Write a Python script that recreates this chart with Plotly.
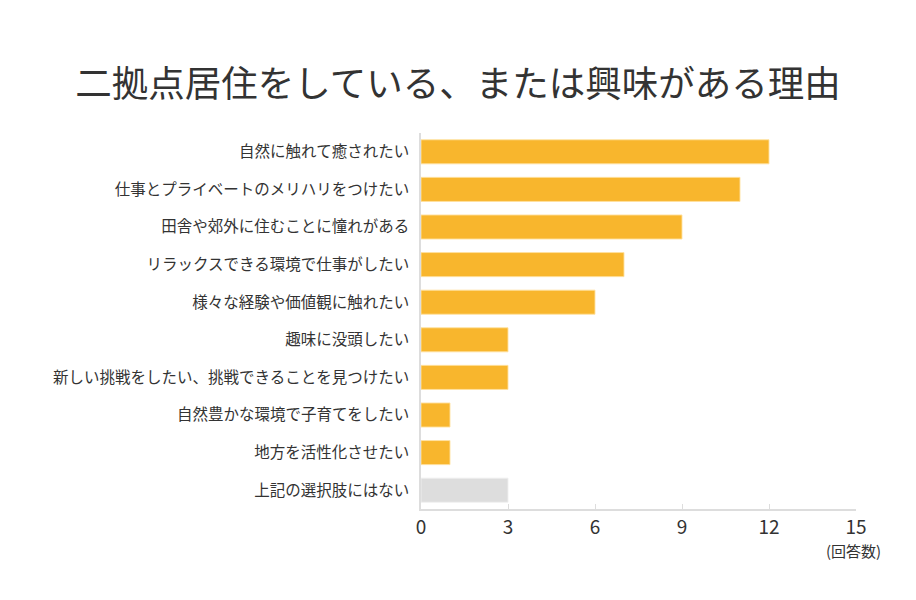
import plotly.graph_objects as go

categories = [
    "自然に触れて癒されたい",
    "仕事とプライベートのメリハリをつけたい",
    "田舎や郊外に住むことに憧れがある",
    "リラックスできる環境で仕事がしたい",
    "様々な経験や価値観に触れたい",
    "趣味に没頭したい",
    "新しい挑戦をしたい、挑戦できることを見つけたい",
    "自然豊かな環境で子育てをしたい",
    "地方を活性化させたい",
    "上記の選択肢にはない",
]
values = [12, 11, 9, 7, 6, 3, 3, 1, 1, 3]
bar_colors = ["#F8B62D"] * 9 + ["#DDDDDD"]
edge_colors = ["rgba(255,225,160,0.9)"] * 9 + ["rgba(240,240,240,0.9)"]
x_ticks = [0, 3, 6, 9, 12, 15]

font = "Noto Sans CJK JP"

fig = go.Figure(
    go.Bar(
        x=values,
        y=categories,
        orientation="h",
        marker=dict(color=bar_colors, line=dict(color=edge_colors, width=1)),
        width=0.64,
        hoverinfo="x+y",
    )
)

fig.update_layout(
    width=916,
    height=600,
    margin=dict(l=421, r=60, t=133, b=91),
    paper_bgcolor="white",
    plot_bgcolor="white",
    showlegend=False,
    font=dict(family=font, color="#333333"),
    title=dict(
        text="二拠点居住をしている、または興味がある理由",
        x=0.5,
        xanchor="center",
        y=1 - 84 / 600,
        yanchor="middle",
        font=dict(size=36.5, family=font, color="#333333"),
    ),
    xaxis=dict(
        range=[0, 15],
        tickvals=x_ticks,
        ticktext=[str(t) for t in x_ticks],
        showgrid=False,
        zeroline=False,
        showline=True,
        linecolor="#DDDDDD",
        linewidth=1.5,
        ticks="inside",
        ticklen=5,
        tickcolor="#DDDDDD",
        tickfont=dict(size=19, color="#333333", family=font),
        fixedrange=True,
    ),
    yaxis=dict(
        categoryorder="array",
        categoryarray=categories[::-1],
        autorange=False,
        range=[-0.5, len(categories) - 0.5],
        showgrid=False,
        zeroline=False,
        showline=True,
        linecolor="#DDDDDD",
        linewidth=1.5,
        ticks="",
        ticklabelstandoff=7,
        tickfont=dict(size=15.5, color="#333333", family=font),
        fixedrange=True,
    ),
)

fig.add_annotation(
    text="(回答数)",
    xref="paper",
    yref="paper",
    x=(883 - 421) / 435,
    y=-41 / 376,
    xanchor="right",
    yanchor="middle",
    showarrow=False,
    font=dict(size=15, color="#333333", family=font),
)

fig.write_html("out.html")
